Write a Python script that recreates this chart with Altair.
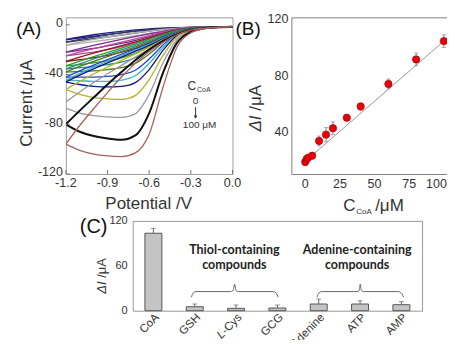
import altair as alt
import pandas as pd

FONT = "Liberation Sans"
TXT = "#333333"

# ---------------- Panel A : voltammograms ----------------
potentials = [-1.2, -1.1, -1.0, -0.9, -0.8, -0.7, -0.6, -0.5, -0.4, -0.3, -0.2, -0.1, 0.0]
curve_names = ["c%02d" % i for i in range(1, 17)]
curve_colors = ["#1f1f8f", "#3a3a5a", "#b0b0b0", "#7b2d8e", "#c2409c", "#8b1c1c",
                "#2ca02c", "#2a8a8a", "#4d7a1f", "#2846c8", "#3cb4c8", "#151580",
                "#b4b428", "#9a9a9a", "#111111", "#a86060"]
sweep_fwd = [
    [-12, -10.6, -9.2, -7.8, -6.4, -5.0, -3.8, -2.9, -2.4, -2.1, -1.8, -1.6, -1.5],
    [-14, -12.6, -11.2, -9.7, -8.2, -6.6, -5.0, -3.6, -2.7, -2.2, -1.9, -1.6, -1.5],
    [-16.5, -15, -13.5, -12, -10.5, -8.8, -6.8, -4.8, -3.2, -2.3, -1.9, -1.6, -1.5],
    [-22, -20.5, -19, -17, -15, -12.5, -9.5, -6.3, -3.8, -2.5, -2.0, -1.7, -1.5],
    [-25, -23.5, -22, -20, -17.5, -14.5, -11, -7.2, -4.2, -2.6, -2.0, -1.7, -1.5],
    [-29.5, -28, -26.5, -24.5, -22, -19, -14.5, -9.2, -4.8, -2.8, -2.1, -1.7, -1.5],
    [-33, -32, -30.5, -29, -26.5, -23, -17.5, -10.8, -5.4, -3.0, -2.1, -1.7, -1.5],
    [-35.5, -34.5, -33.5, -32, -30, -26.5, -20, -12.3, -6, -3.2, -2.2, -1.8, -1.5],
    [-38, -37.5, -37, -36, -34.5, -31, -23.5, -14.2, -6.6, -3.4, -2.2, -1.8, -1.5],
    [-42, -42, -42, -41.5, -40, -36.5, -27.5, -16.2, -7.2, -3.6, -2.3, -1.8, -1.5],
    [-44.5, -45, -45.5, -45.5, -44.5, -41, -31, -18.2, -7.8, -3.8, -2.3, -1.8, -1.5],
    [-46, -48, -49.5, -50, -49.5, -46.5, -36, -20.5, -8.6, -4.0, -2.4, -1.8, -1.5],
    [-52, -56, -58.5, -59.5, -60, -57, -44, -24.5, -10, -4.4, -2.5, -1.9, -1.5],
    [-67, -71, -73, -74, -74.5, -71.5, -56, -30.5, -12, -5, -2.6, -1.9, -1.5],
    [-80, -86, -89.5, -91.5, -92.5, -89, -71, -38.5, -14.5, -5.6, -2.8, -2.0, -1.5],
    [-96, -101, -104, -105.5, -106, -103, -88, -50, -18, -6.5, -3.0, -2.0, -1.5],
]
sweep_ret = [
    [-12, -9.8, -8.0, -6.5, -5.2, -4.1, -3.2, -2.6, -2.2, -2.0, -1.8, -1.6, -1.5],
    [-14, -11.8, -9.8, -8.0, -6.5, -5.1, -3.9, -3.0, -2.5, -2.1, -1.9, -1.6, -1.5],
    [-16.5, -14, -11.8, -9.8, -8.0, -6.4, -5.0, -3.7, -2.8, -2.2, -1.9, -1.6, -1.5],
    [-22, -19.2, -16.6, -14.2, -11.8, -9.5, -7.3, -5.2, -3.4, -2.4, -1.9, -1.7, -1.5],
    [-25, -22, -19.2, -16.6, -14, -11.4, -8.6, -5.9, -3.7, -2.5, -2.0, -1.7, -1.5],
    [-29.5, -26, -22.8, -19.8, -16.8, -13.8, -10.5, -7.0, -4.2, -2.7, -2.0, -1.7, -1.5],
    [-33, -29.2, -25.6, -22.2, -18.8, -15.4, -11.8, -7.8, -4.6, -2.8, -2.0, -1.7, -1.5],
    [-35.5, -31.4, -27.5, -23.8, -20.2, -16.6, -12.8, -8.5, -5.0, -3.0, -2.1, -1.7, -1.5],
    [-38, -33.5, -29.4, -25.5, -21.6, -17.8, -13.8, -9.2, -5.4, -3.1, -2.1, -1.7, -1.5],
    [-42, -37, -32.4, -28, -23.6, -19.4, -15, -10, -5.8, -3.3, -2.2, -1.7, -1.5],
    [-44.5, -39, -34, -29.3, -24.8, -20.4, -15.8, -10.6, -6.1, -3.4, -2.2, -1.7, -1.5],
    [-46, -40.5, -35.4, -30.6, -26, -21.4, -16.6, -11.2, -6.4, -3.5, -2.2, -1.7, -1.5],
    [-52, -45.5, -39.6, -34, -28.6, -23.4, -18, -12, -6.8, -3.7, -2.3, -1.8, -1.5],
    [-62, -54, -46.4, -39.4, -32.6, -26, -19.6, -13, -7.3, -3.9, -2.4, -1.8, -1.5],
    [-80, -69, -58.5, -48, -38, -28.5, -20, -13, -7.5, -4, -2.5, -1.8, -1.5],
    [-96, -81, -67.5, -54.5, -42, -31, -21.5, -14, -8, -4.2, -2.6, -1.8, -1.5],
]
a_xticks = [-1.2, -0.9, -0.6, -0.3, 0.0]
a_xlabels = ["-1.2", "-0.9", "-0.6", "-0.3", "0.0"]
a_yticks = [0, -40, -80, -120]
a_ylabels = ["0", "-40", "-80", "-120"]

# ---------------- Panel B : calibration ----------------
b_conc = [0, 1, 2, 5, 10, 15, 20, 30, 40, 60, 80, 100]
b_delta = [18.5, 20.5, 21.5, 23, 33.5, 38, 42.5, 50, 58, 74, 91.5, 104.5]
b_err = [2.5, 2, 2, 2, 3.5, 5, 4.5, 2, 2.5, 3.5, 4.5, 4.5]
fit_conc = [0, 100]
fit_delta = [19, 104.5]
b_xticks = [0, 25, 50, 75, 100]
b_xlabels = ["0", "25", "50", "75", "100"]
b_yticks = [40, 80, 120]
b_ylabels = ["40", "80", "120"]

# ---------------- Panel C : selectivity ----------------
c_cats = ["CoA", "GSH", "L-Cys", "GCG", "Adenine", "ATP", "AMP"]
c_shown = ["CoA", "GSH", "-Cys", "GCG", "Adenine", "ATP", "AMP"]   # the italic "L" is added separately
c_vals = [103.5, 5.3, 3.1, 3.6, 8.9, 8.9, 8.0]
c_errs = [6.5, 3.6, 4.5, 4.0, 6.7, 4.4, 4.0]
c_yticks = [0, 60, 120]
c_ylabels = ["0", "60", "120"]
brace_thiol_x = [1.42, 1.46, 1.53, 2.36, 2.43, 2.465, 2.50, 2.57, 3.40, 3.47, 3.52]
brace_aden_x = [4.46, 4.50, 4.57, 5.43, 5.48, 5.505, 5.53, 5.58, 6.43, 6.50, 6.55]
brace_y = [18, 23.5, 25.5, 25.5, 27, 35.5, 27, 25.5, 25.5, 23.5, 18]


def label(t, x, y, size, align="left", baseline="alphabetic", font=FONT, weight="normal",
          color=TXT, opacity=1, angle=0, style="normal"):
    return alt.Chart(pd.DataFrame({"t": [t]})).mark_text(
        align=align, baseline=baseline, fontSize=size, font=font, fontWeight=weight,
        color=color, opacity=opacity, angle=angle, fontStyle=style
    ).encode(text="t:N", x=alt.value(x), y=alt.value(y))


def xtick_labels(vals, labels, scale, y, size, align="center", dx=0):
    return alt.Chart(pd.DataFrame({"v": vals, "t": labels})).mark_text(
        align=align, baseline="alphabetic", fontSize=size, font=FONT, color=TXT, dx=dx
    ).encode(x=alt.X("v:Q", scale=scale, axis=None), y=alt.value(y), text="t:N")


def ytick_labels(vals, labels, scale, x, size, dy=0):
    return alt.Chart(pd.DataFrame({"v": vals, "t": labels})).mark_text(
        align="right", baseline="middle", fontSize=size, font=FONT, color=TXT, dy=dy
    ).encode(y=alt.Y("v:Q", scale=scale, axis=None), x=alt.value(x), text="t:N")


def delta_title(x, y_bottom, size):
    # "ΔI" in italics followed by " /μA", read upwards
    w_di = 0.946 * size
    gap = 0.278 * size
    return [
        label("ΔI", x, y_bottom - w_di, size, align="right", baseline="middle", angle=270, style="italic"),
        label("/μA", x, y_bottom - w_di - gap, size, align="left", baseline="middle", angle=270),
    ]


# ---- build A ----
rows = []
for name, f, r in zip(curve_names, sweep_fwd, sweep_ret):
    for v, a, b in zip(potentials, f, r):
        rows.append({"curve": name, "series": name + "f", "V": v, "I": a})
        rows.append({"curve": name, "series": name + "r", "V": v, "I": b})
df_a = pd.DataFrame(rows)
ax_s = alt.Scale(domain=[-1.2, 0.0], nice=False, zero=False)
ay_s = alt.Scale(domain=[-120, 6], nice=False, zero=False)

a_lines = alt.Chart(df_a).mark_line(interpolate="monotone", clip=True).encode(
    x=alt.X("V:Q", scale=ax_s, axis=None),
    y=alt.Y("I:Q", scale=ay_s, axis=None),
    color=alt.Color("curve:N", scale=alt.Scale(domain=curve_names, range=curve_colors), legend=None),
    detail="series:N",
    strokeWidth=alt.condition("datum.curve == 'c15'", alt.value(2.0), alt.value(1.3)),
)
a_xt = alt.Chart(pd.DataFrame({"V": a_xticks})).mark_rule(color="#777").encode(
    x=alt.X("V:Q", scale=ax_s, axis=None), y=alt.value(157), y2=alt.value(153))
a_yt = alt.Chart(pd.DataFrame({"I": a_yticks})).mark_rule(color="#777").encode(
    y=alt.Y("I:Q", scale=ay_s, axis=None), x=alt.value(0), x2=alt.value(4))
arrow = alt.Chart(pd.DataFrame({"k": [0]})).mark_rule(color="#333").encode(
    x=alt.value(130), y=alt.value(90), y2=alt.value(100))
arrow_head = alt.Chart(pd.DataFrame({"k": [0]})).mark_point(
    shape="triangle-down", filled=True, color="#333", size=14, opacity=1).encode(
    x=alt.value(130), y=alt.value(100))
panel_a = alt.layer(
    a_lines, a_xt, a_yt,
    xtick_labels(a_xticks, a_xlabels, ax_s, 170, 12.5),
    ytick_labels(a_yticks, a_ylabels, ay_s, -3, 12.5, dy=-1.5),
    label("Potential /V", 83, 192.5, 17, align="center"),
    label("Current /μA", -39, 86, 17, align="center", baseline="middle", angle=270),
    label("C", 122, 73, 12), label("CoA", 131.5, 75, 7),
    label("0", 130, 87, 10, align="center"), arrow, arrow_head,
    label("100 μM", 134, 110.5, 10, align="center"),
    label("(A)", -50, 17.3, 19, color="#111"),
).properties(width=167, height=157, view=alt.ViewBackground(stroke="#a0a0a0", strokeWidth=1))

# ---- build B ----
df_b = pd.DataFrame({"c": b_conc, "d": b_delta, "e": b_err})
df_b["lo"] = df_b["d"] - df_b["e"]
df_b["hi"] = df_b["d"] + df_b["e"]
bx = alt.Scale(domain=[-10, 107.3], nice=False, zero=False)
by = alt.Scale(domain=[10, 121.4], nice=False, zero=False)
b_fit = alt.Chart(pd.DataFrame({"c": fit_conc, "d": fit_delta})).mark_line(color="#999", strokeWidth=1).encode(
    x=alt.X("c:Q", scale=bx, axis=None), y=alt.Y("d:Q", scale=by, axis=None))
b_err_rule = alt.Chart(df_b).mark_rule(color="#888", strokeWidth=1).encode(
    x=alt.X("c:Q", scale=bx, axis=None), y=alt.Y("lo:Q", scale=by, axis=None), y2="hi:Q")
b_cap_hi = alt.Chart(df_b).mark_tick(color="#888", orient="horizontal", size=4, thickness=1).encode(
    x=alt.X("c:Q", scale=bx, axis=None), y=alt.Y("hi:Q", scale=by, axis=None))
b_cap_lo = alt.Chart(df_b).mark_tick(color="#888", orient="horizontal", size=4, thickness=1).encode(
    x=alt.X("c:Q", scale=bx, axis=None), y=alt.Y("lo:Q", scale=by, axis=None))
b_pts = alt.Chart(df_b).mark_point(filled=True, color="#e8000b", size=55, opacity=1,
                                   stroke="#a00000", strokeWidth=0.6).encode(
    x=alt.X("c:Q", scale=bx, axis=None), y=alt.Y("d:Q", scale=by, axis=None))
panel_b = alt.layer(
    b_fit, b_err_rule, b_cap_hi, b_cap_lo, b_pts,
    xtick_labels(b_xticks[:-1], b_xlabels[:-1], bx, 171, 12.5),
    xtick_labels(b_xticks[-1:], b_xlabels[-1:], bx, 171, 12.5, align="right", dx=3),
    ytick_labels(b_yticks, b_ylabels, by, -3, 12.5),
    *delta_title(-35, 114.4, 17),
    label("C", 52, 194, 17), label("CoA", 65, 197, 8), label("/μM", 84, 194, 17),
    label("(B)", -56, 17.3, 19, color="#111"),
).properties(width=163, height=157, view=alt.ViewBackground(stroke="#808080", strokeWidth=1))

# ---- build C ----
df_c = pd.DataFrame({"cat": c_cats, "shown": c_shown, "val": c_vals, "err": c_errs})
df_c["hi"] = df_c["val"] + df_c["err"]
cy = alt.Scale(domain=[0, 120], nice=False, zero=False)
cxs = alt.Scale(paddingInner=0.59, paddingOuter=0.295)
c_bars = alt.Chart(df_c).mark_bar(color="#c4c4c4", stroke="#555", strokeWidth=1).encode(
    x=alt.X("cat:N", sort=c_cats, scale=cxs, axis=None),
    y=alt.Y("val:Q", scale=cy, axis=None))
c_err_rule = alt.Chart(df_c).mark_rule(color="#666").encode(
    x=alt.X("cat:N", sort=c_cats, axis=None), y=alt.Y("val:Q", axis=None), y2="hi:Q")
c_cap = alt.Chart(df_c).mark_tick(color="#666", size=5, thickness=1).encode(
    x=alt.X("cat:N", sort=c_cats, axis=None), y=alt.Y("hi:Q", axis=None))
c_xlab = alt.Chart(df_c).mark_text(angle=315, align="right", baseline="top", fontSize=11.5,
                                   font=FONT, color=TXT).encode(
    x=alt.X("cat:N", sort=c_cats, axis=None), y=alt.value(91), text="shown:N")
c_ylab = ytick_labels(c_yticks, c_ylabels, cy, -5, 11)
base_c = alt.layer(c_bars, c_err_rule, c_cap, c_xlab, c_ylab)

brace_df = pd.DataFrame({
    "bx": brace_thiol_x + brace_aden_x,
    "by": brace_y + brace_y,
    "g": ["thiol"] * len(brace_thiol_x) + ["aden"] * len(brace_aden_x),
})
qx = alt.Scale(domain=[0, 7], nice=False, zero=False)
c_brace = alt.Chart(brace_df).mark_line(interpolate="monotone", color="#666", strokeWidth=1).encode(
    x=alt.X("bx:Q", scale=qx, axis=None), y=alt.Y("by:Q", axis=None), detail="g:N")
grp_df = pd.DataFrame({
    "t": ["Thiol-containing", "compounds", "Adenine-containing", "compounds"],
    "gx": [2.46, 2.46, 5.43, 5.43],
    "gy": [76, 56, 76, 56],
})
c_grp = alt.Chart(grp_df).mark_text(font="Lato", fontWeight="bold", fontSize=12.5, color="#222",
                                    baseline="alphabetic").encode(
    x=alt.X("gx:Q", scale=qx, axis=None), y=alt.Y("gy:Q", axis=None), text="t:N")
over_c = alt.layer(c_brace, c_grp)

# italic "L" prefixed to "-Cys" along the rotated label line
lcys_center = 2.5 * 290 / 7
shift = 2.055 * 11.5 * 0.7071
panel_c = alt.layer(
    base_c, over_c,
    label("L", lcys_center - shift, 91 + shift, 11.5, align="right", baseline="top",
          angle=315, style="italic"),
    *delta_title(-31, 72.9, 13),
    label("(C)", -53, 12.5, 20, color="#111"),
).resolve_scale(x="independent").properties(
    width=290, height=90, view=alt.ViewBackground(stroke="#999", strokeWidth=1))

spacer = alt.Chart(pd.DataFrame({"k": [0]})).mark_rule(opacity=0).encode(
    x=alt.value(0), x2=alt.value(1), y=alt.value(0)).properties(width=1, height=1)

row1 = alt.hconcat(panel_a, panel_b, spacing=59, bounds="flush")
row2 = alt.hconcat(spacer, panel_c, spacing=66, bounds="flush")

chart = alt.vconcat(row1, row2, spacing=-3).properties(
    padding={"left": 7, "top": 4, "right": -8, "bottom": -11},
    background="white",
).configure_view(strokeWidth=0)

chart.save("out.html", embed_options={"renderer": "svg", "actions": False})
